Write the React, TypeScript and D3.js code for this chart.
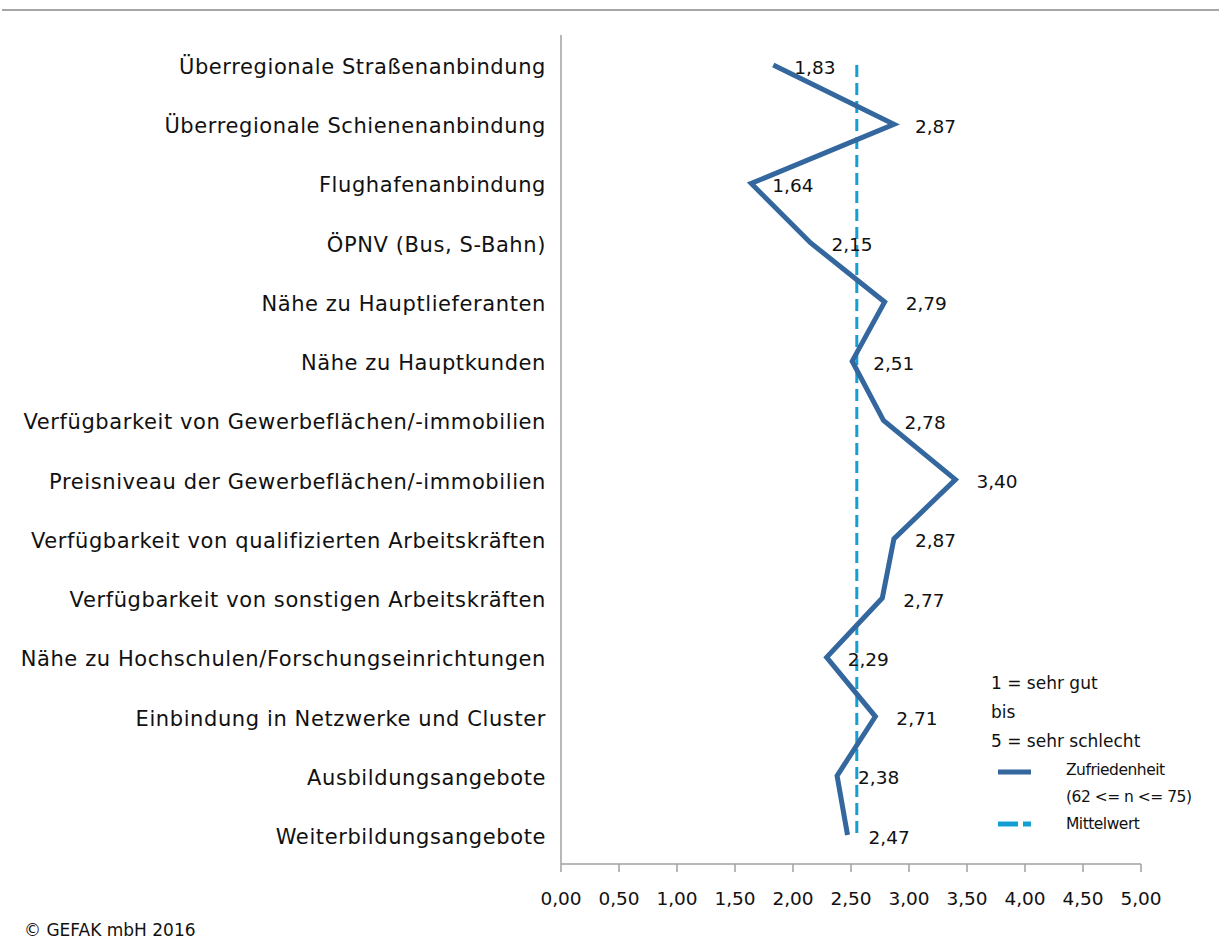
import React from "react";
import * as d3 from "d3";

const categories: string[] = [
  "Überregionale Straßenanbindung",
  "Überregionale Schienenanbindung",
  "Flughafenanbindung",
  "ÖPNV (Bus, S-Bahn)",
  "Nähe zu Hauptlieferanten",
  "Nähe zu Hauptkunden",
  "Verfügbarkeit von Gewerbeflächen/-immobilien",
  "Preisniveau der Gewerbeflächen/-immobilien",
  "Verfügbarkeit von qualifizierten Arbeitskräften",
  "Verfügbarkeit von sonstigen Arbeitskräften",
  "Nähe zu Hochschulen/Forschungseinrichtungen",
  "Einbindung in Netzwerke und Cluster",
  "Ausbildungsangebote",
  "Weiterbildungsangebote",
];

const satisfaction: number[] = [1.83, 2.87, 1.64, 2.15, 2.79, 2.51, 2.78, 3.4, 2.87, 2.77, 2.29, 2.71, 2.38, 2.47];

const meanValue: number[] = [2.55];

const xTicks: number[] = [0, 0.5, 1, 1.5, 2, 2.5, 3, 3.5, 4, 4.5, 5];

const legendNotes: string[] = ["1 = sehr gut", "bis", "5 = sehr schlecht"];
const seriesNames: string[][] = [["Zufriedenheit", "(62 <= n <= 75)"], ["Mittelwert"]];
const footer = "© GEFAK mbH 2016";

const W = 1231;
const H = 942;
const FONT = "'DejaVu Sans', sans-serif";
const LINE_COLOR = "#33679e";
const MEAN_COLOR = "#139fd3";
const AXIS_COLOR = "#a0a0a0";
const TEXT_COLOR = "#111";

const fmt = (v: number) => v.toFixed(2).replace(".", ",");

export default function App() {
  const x = d3.scaleLinear().domain([0, 5]).range([561, 1141]);
  const y = d3.scalePoint<string>().domain(categories).range([65, 835]);
  const axisY = 864;
  const axisTop = 35;

  const line = d3
    .line<number>()
    .x((d) => x(d))
    .y((_, i) => y(categories[i]) as number);

  const yFirst = y(categories[0]) as number;
  const yLast = y(categories[categories.length - 1]) as number;

  return (
    <svg
      width={W}
      height={H}
      viewBox={`0 0 ${W} ${H}`}
      style={{ position: "absolute", left: 0, top: 0, background: "#fff" }}
      fontFamily={FONT}
    >
      <rect x={0} y={0} width={W} height={H} fill="#fff" />
      <line x1={2} x2={1219} y1={10} y2={10} stroke="#a6a6a6" strokeWidth={2} />

      {/* axes */}
      <line x1={x(0)} x2={x(0)} y1={axisTop} y2={axisY} stroke={AXIS_COLOR} strokeWidth={1.5} />
      <line x1={x(0)} x2={x(5)} y1={axisY} y2={axisY} stroke={AXIS_COLOR} strokeWidth={1.5} />
      {xTicks.map((t) => (
        <g key={t}>
          <line x1={x(t)} x2={x(t)} y1={axisY} y2={axisY + 8} stroke={AXIS_COLOR} strokeWidth={1.5} />
          <text x={x(t)} y={898} textAnchor="middle" dominantBaseline="central" fontSize={18.5} fill={TEXT_COLOR}>
            {fmt(t)}
          </text>
        </g>
      ))}

      {/* category labels */}
      {categories.map((c) => (
        <text
          key={c}
          x={546}
          y={(y(c) as number) + 2}
          textAnchor="end"
          dominantBaseline="central"
          fontSize={21}
          letterSpacing={0.6}
          fill={TEXT_COLOR}
        >
          {c}
        </text>
      ))}

      {/* mean line */}
      <line
        x1={x(meanValue[0])}
        x2={x(meanValue[0])}
        y1={yFirst}
        y2={yLast}
        stroke={MEAN_COLOR}
        strokeWidth={3}
        strokeDasharray="12,6"
      />

      {/* satisfaction line */}
      <path d={line(satisfaction) || ""} fill="none" stroke={LINE_COLOR} strokeWidth={5} strokeLinejoin="miter" />

      {/* value labels */}
      {satisfaction.map((v, i) => (
        <text
          key={i}
          x={x(v) + 21}
          y={(y(categories[i]) as number) + 2}
          dominantBaseline="central"
          fontSize={18.5}
          fill={TEXT_COLOR}
        >
          {fmt(v)}
        </text>
      ))}

      {/* legend */}
      {legendNotes.map((t, i) => (
        <text key={t} x={991} y={683 + i * 29} dominantBaseline="central" fontSize={17} fill={TEXT_COLOR}>
          {t}
        </text>
      ))}
      <line x1={998} x2={1031} y1={772} y2={772} stroke={LINE_COLOR} strokeWidth={5} />
      <text x={1066} y={770} dominantBaseline="central" fontSize={15.5} letterSpacing={-0.5} fill={TEXT_COLOR}>
        {seriesNames[0][0]}
      </text>
      <text x={1066} y={797} dominantBaseline="central" fontSize={15.5} letterSpacing={-0.5} fill={TEXT_COLOR}>
        {seriesNames[0][1]}
      </text>
      <line x1={998} x2={1031} y1={824} y2={824} stroke={MEAN_COLOR} strokeWidth={5} strokeDasharray="20,5" />
      <text x={1066} y={824} dominantBaseline="central" fontSize={15.5} letterSpacing={-0.5} fill={TEXT_COLOR}>
        {seriesNames[1][0]}
      </text>

      <text x={24} y={930} dominantBaseline="central" fontSize={17} fill={TEXT_COLOR}>
        {footer}
      </text>
    </svg>
  );
}
